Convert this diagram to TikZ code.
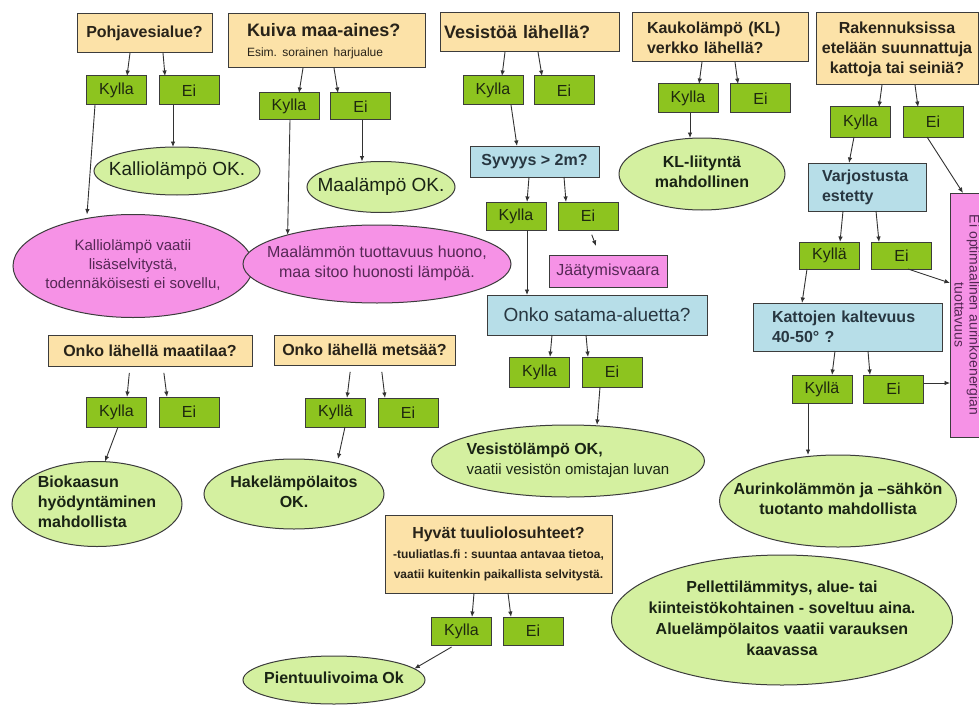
\documentclass[tikz,border=0pt]{standalone}
\usepackage{fontspec}
\usepackage{graphicx}
\setmainfont{Liberation Sans}
\usetikzlibrary{arrows.meta,shapes.geometric}
\newcommand{\fsz}[2]{\fontsize{#1}{#2}\selectfont}
\newcommand{\ctext}[2]{\makebox[0pt]{\smash{\raisebox{-0.25em}{\begin{tabular}{@{}#1@{}}#2\end{tabular}}}}}
\definecolor{beige}{RGB}{252,226,168}
\definecolor{grn}{RGB}{141,196,31}
\definecolor{lgrn}{RGB}{212,240,160}
\definecolor{pnk}{RGB}{246,146,230}
\definecolor{lblue}{RGB}{183,222,232}
\definecolor{bord}{RGB}{60,60,60}
\definecolor{ptext}{RGB}{85,40,85}
\definecolor{qtext}{RGB}{40,35,25}
\definecolor{btext}{RGB}{40,55,65}
\definecolor{gtext}{RGB}{30,40,15}
\definecolor{etext}{RGB}{25,35,20}
\definecolor{arrc}{RGB}{50,50,50}
\begin{document}
\frenchspacing
\begin{tikzpicture}[x=1pt,y=-1pt,
 every node/.style={inner sep=0pt, outer sep=0pt},
 qb/.style={draw=bord, line width=1pt, fill=beige, text=qtext, font=\bfseries\fsz{16}{20}},
 gb/.style={draw=bord, line width=1pt, fill=grn, text=gtext, font=\fsz{16}{18}, minimum width=60, minimum height=29},
 bb/.style={draw=bord, line width=1pt, fill=lblue, text=btext, font=\bfseries\fsz{16}{20}},
 pb/.style={draw=bord, line width=1pt, fill=pnk, text=ptext, font=\fsz{16}{19}},
 ge/.style={ellipse, draw=bord, line width=1pt, fill=lgrn, text=etext, font=\bfseries\fsz{16}{20}},
 pe/.style={ellipse, draw=bord, line width=1pt, fill=pnk, text=ptext, font=\fsz{16}{20}},
 arr/.style={draw=arrc, line width=0.9pt, -{Latex[length=5.5pt,width=4.5pt]}},
]
\fill[white] (0,0) rectangle (979,706);
\useasboundingbox (0,0) rectangle (979,706);

% ---- question boxes (beige)
\node[qb, minimum width=135, minimum height=39] (qPoh) at (144.5,33.5) {Pohjavesialue?};
\node[qb, minimum width=197, minimum height=54, text width=159, inner xsep=19, align=left] (qKui) at (326.5,41)
  {\fsz{18}{20}Kuiva maa-aines?\\\mdseries\fsz{12}{15}Esim.\ sorainen harjualue};
\node[qb, minimum width=179, minimum height=39, text width=171, inner xsep=4, align=left, font=\bfseries\fsz{18}{20}] (qVes) at (529.5,32.5) {Vesistöä lähellä?};
\node[qb, minimum width=176, minimum height=49, text width=146, inner xsep=15, align=left] (qKau) at (720,37.5) {Kaukolämpö (KL)\\verkko lähellä?};
\node[qb, minimum width=162, minimum height=72, align=center] (qRak) at (897,49) {Rakennuksissa\\etelään suunnattuja\\kattoja tai seiniä?};
\node[qb, minimum width=204, minimum height=31] (qMaat) at (150,350.5) {Onko lähellä maatilaa?};
\node[qb, minimum width=181, minimum height=30] (qMets) at (364.5,350) {Onko lähellä metsää?};
\node[qb, minimum width=227, minimum height=78, align=center] (qTuul) at (498.5,554)
  {\fsz{16}{18}Hyvät tuuliolosuhteet?\\\fsz{12}{15}-tuuliatlas.fi : suuntaa antavaa tietoa,\\\fsz{12}{15}vaatii kuitenkin paikallista selvitystä.};

% ---- light blue boxes
\node[bb, minimum width=129, minimum height=31] (bSyv) at (534.5,161.5) {Syvyys > 2m?};
\node[bb, minimum width=220, minimum height=40, font=\mdseries\fsz{19}{22}] (bSat) at (597,315) {Onko satama-aluetta?};
\node[bb, minimum width=118, minimum height=48, text width=90, inner xsep=14, align=left] (bVar) at (867,187) {Varjostusta\\estetty};
\node[bb, minimum width=189, minimum height=48, text width=151, inner xsep=19, align=left] (bKat) at (847.5,327) {Kattojen kaltevuus\\40-50° ?};

% ---- green answer boxes
\node[gb] (kPoh) at (116.5,90.5) {Kylla};
\node[gb] (nPoh) at (189,90.5) {Ei};
\node[gb, minimum height=27] (kKui) at (289,106.5) {Kylla};
\node[gb, minimum height=27] (nKui) at (360.5,106.5) {Ei};
\node[gb] (kVes) at (493,90.5) {Kylla};
\node[gb] (nVes) at (564,90.5) {Ei};
\node[gb, minimum height=28] (kSyv) at (516,216) {Kylla};
\node[gb, minimum height=28] (nSyv) at (588,216) {Ei};
\node[gb, minimum height=30] (kSat) at (539.5,372) {Kylla};
\node[gb, minimum height=30] (nSat) at (612,372) {Ei};
\node[gb] (kKau) at (688,98.5) {Kylla};
\node[gb] (nKau) at (760.5,98.5) {Ei};
\node[gb, minimum height=30] (kRak) at (860.5,122) {Kylla};
\node[gb, minimum height=30] (nRak) at (933,122) {Ei};
\node[gb, minimum height=27] (kVar) at (829.5,255.5) {Kyllä};
\node[gb, minimum height=27] (nVar) at (901.5,255.5) {Ei};
\node[gb, minimum height=28] (kKat) at (822,389) {Kyllä};
\node[gb, minimum height=28] (nKat) at (893.5,389) {Ei};
\node[gb, minimum height=30] (kMaat) at (116.5,412) {Kylla};
\node[gb, minimum height=30] (nMaat) at (189,412) {Ei};
\node[gb] (kMets) at (335.5,412.5) {Kyllä};
\node[gb] (nMets) at (408,412.5) {Ei};
\node[gb, minimum height=28] (kTuul) at (461.5,631) {Kylla};
\node[gb, minimum height=28] (nTuul) at (533,631) {Ei};

% ---- pink results
\node[pe, minimum width=240, minimum height=103, font=\fsz{15}{19}] (pKal) at (133,266)
  {\ctext{c}{Kalliolämpö vaatii\\lisäselvitystä,\\todennäköisesti ei sovellu,}};
\node[pe, minimum width=268, minimum height=78] (pMaa) at (377,264)
  {\ctext{c}{Maalämmön tuottavuus huono,\\maa sitoo huonosti lämpöä.}};
\node[pb, minimum width=118, minimum height=32] (pJaa) at (608,271) {Jäätymisvaara};
\node[pb, minimum width=30, minimum height=244] (pEi) at (965,315)
  {\rotatebox{-90}{\fsz{14}{15}\begin{tabular}{@{}c@{}}Ei optimaalinen aurinkoenergian\\tuottavuus\end{tabular}}};

% ---- green results
\node[ge, minimum width=166, minimum height=48, font=\fsz{19}{22}] (eKal) at (177,171) {\ctext{c}{Kalliolämpö OK.}};
\node[ge, minimum width=148, minimum height=51, font=\fsz{19}{22}] (eMaa) at (381,187) {\ctext{c}{Maalämpö OK.}};
\node[ge, minimum width=166, minimum height=72] (eKL) at (702,174) {\ctext{c}{KL-liityntä\\mahdollinen}};
\node[ge, minimum width=273, minimum height=72] (eVes) at (568,461)
  {\ctext{l}{Vesistölämpö OK,\\\mdseries\fsz{15}{20}vaatii vesistön omistajan luvan}};
\node[ge, minimum width=237, minimum height=92] (eAur) at (838,501) {\ctext{c}{Aurinkolämmön ja –sähkön\\tuotanto mahdollista}};
\node[ge, minimum width=341, minimum height=130, font=\bfseries\fsz{16}{21}] (ePel) at (782,620)
  {\ctext{c}{Pellettilämmitys, alue- tai\\kiinteistökohtainen - soveltuu aina.\\Aluelämpölaitos vaatii varauksen\\kaavassa}};
\node[ge, minimum width=170, minimum height=85] (eBio) at (97,504) {\ctext{l}{Biokaasun\\hyödyntäminen\\mahdollista}};
\node[ge, minimum width=180, minimum height=70] (eHak) at (294,494) {\ctext{c}{Hakelämpölaitos\\OK.}};
\node[ge, minimum width=182, minimum height=48] (ePien) at (334,680) {\ctext{c}{Pientuulivoima Ok}};

% ---- connectors
\draw[arr] (qPoh.south -| 130,0) -- (kPoh.north -| 127,0);
\draw[arr] (qPoh.south -| 163,0) -- (nPoh.north -| 165,0);
\draw[arr] (kPoh.south -| 95,0) -- (pKal.north -| 87,0);
\draw[arr] (nPoh.south -| 173,0) -- (eKal.north -| 173,0);
\draw[arr] (qKui.south -| 303,0) -- (kKui.north -| 299,0);
\draw[arr] (qKui.south -| 334,0) -- (nKui.north -| 338,0);
\draw[arr] (kKui.south -| 290,0) -- (pMaa.162);
\draw[arr] (nKui.south -| 362,0) -- (eMaa.north -| 362,0);
\draw[arr] (qVes.south -| 505,0) -- (kVes.north -| 502,0);
\draw[arr] (qVes.south -| 538,0) -- (nVes.north -| 542,0);
\draw[arr] (kVes.south -| 511,0) -- (bSyv.north -| 517,0);
\draw[arr] (bSyv.south -| 529,0) -- (kSyv.north -| 527,0);
\draw[arr] (bSyv.south -| 564,0) -- (nSyv.north -| 566,0);
\coordinate (jvEnd) at (596,246);
\draw[arr, shorten <=5pt] (nSyv.south -| 590,0) -- (jvEnd);
\draw[arr] (kSyv.south -| 527,0) -- (bSat.north -| 527,0);
\draw[arr] (bSat.south -| 552,0) -- (kSat.north -| 550,0);
\draw[arr] (bSat.south -| 586,0) -- (nSat.north -| 588,0);
\draw[arr] (nSat.south -| 600,0) -- (eVes.north -| 597,0);
\draw[arr] (qKau.south -| 702,0) -- (kKau.north -| 699,0);
\draw[arr] (qKau.south -| 735,0) -- (nKau.north -| 738,0);
\draw[arr] (kKau.south -| 690,0) -- (eKL.north -| 690,0);
\draw[arr] (qRak.south -| 882,0) -- (kRak.north -| 879,0);
\draw[arr] (qRak.south -| 915,0) -- (nRak.north -| 918,0);
\draw[arr] (kRak.south -| 854,0) -- (bVar.north -| 849,0);
\draw[arr] (nRak.south -| 927,0) -- (pEi.north -| 963,0);
\draw[arr] (bVar.south -| 843,0) -- (kVar.north -| 840,0);
\draw[arr] (bVar.south -| 876,0) -- (nVar.north -| 879,0);
\draw[arr] (nVar.south -| 908,0) -- (pEi.west |- 0,283);
\draw[arr] (kVar.south -| 807,0) -- (bKat.north -| 802,0);
\draw[arr] (bKat.south -| 835,0) -- (kKat.north -| 832,0);
\draw[arr] (bKat.south -| 868,0) -- (nKat.north -| 870,0);
\draw[arr] (nKat.east |- 0,383) -- (pEi.west |- 0,383);
\draw[arr] (kKat.south -| 808,0) -- (eAur.north -| 808,0);
\draw[arr, shorten <=7pt] (qMaat.south -| 130,0) -- (kMaat.north -| 127,0);
\draw[arr, shorten <=7pt] (qMaat.south -| 163,0) -- (nMaat.north -| 167,0);
\draw[arr] (kMaat.south -| 118,0) -- (eBio.north -| 105,0);
\draw[arr, shorten <=7pt] (qMets.south -| 351,0) -- (kMets.north -| 347,0);
\draw[arr, shorten <=7pt] (qMets.south -| 381,0) -- (nMets.north -| 385,0);
\draw[arr] (kMets.south -| 345,0) -- (eHak.north -| 338,0);
\draw[arr] (qTuul.south -| 474,0) -- (kTuul.north -| 472,0);
\draw[arr] (qTuul.south -| 508,0) -- (nTuul.north -| 511,0);
\draw[arr, shorten <=4pt] (kTuul.south -| 455,0) -- (ePien.8);
\end{tikzpicture}
\end{document}
